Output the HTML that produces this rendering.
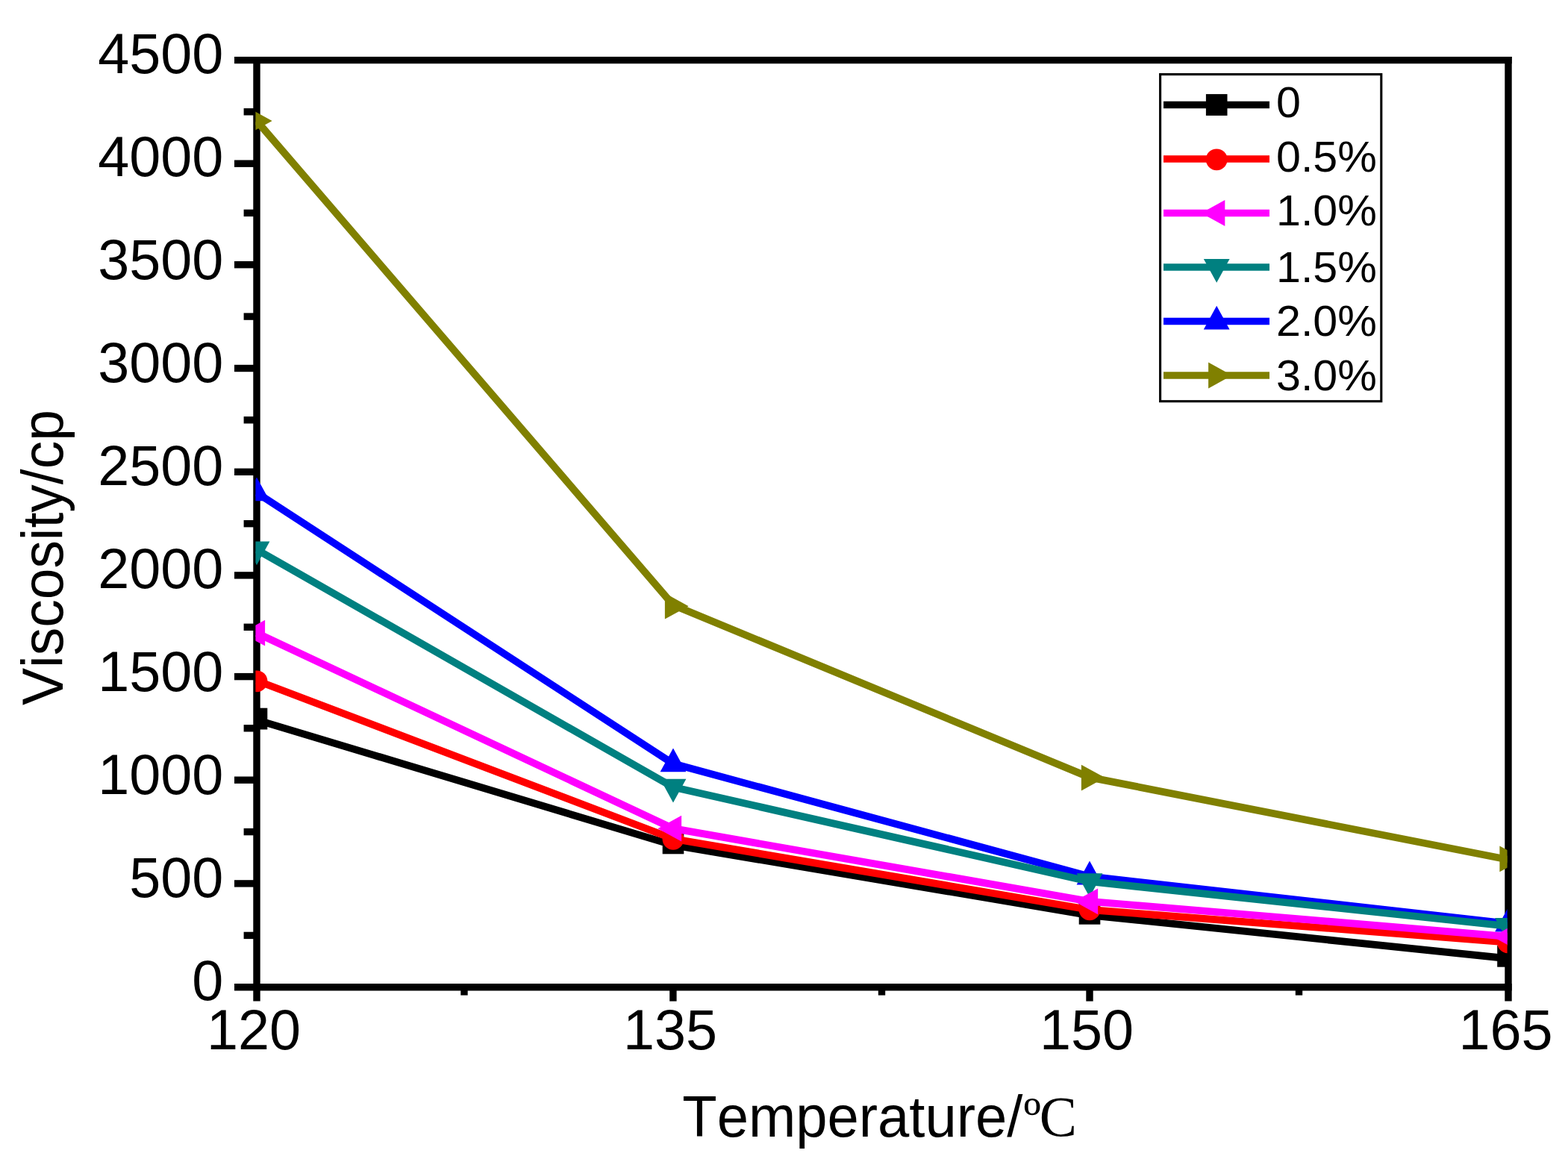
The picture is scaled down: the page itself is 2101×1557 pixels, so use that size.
<!DOCTYPE html>
<html lang="en">
<head>
<meta charset="utf-8">
<style>
html,body{margin:0;padding:0;background:#ffffff;}
body{width:2101px;height:1557px;overflow:hidden;}
svg{display:block;position:absolute;left:0;top:0;}
text{font-family:"Liberation Sans",sans-serif;fill:#000000;font-kerning:none;font-variant-ligatures:none;}
.tk{font-size:75.6px;}
.lg{font-size:59.2px;}
.ax{font-size:76px;}
.ay{font-size:75px;}
.sf{font-family:"Liberation Serif",serif;font-size:75.2px;}
</style>
</head>
<body>
<svg width="2101" height="1557" viewBox="0 0 2101 1557">
<rect x="0" y="0" width="2101" height="1557" fill="#ffffff"/>
<defs><clipPath id="plotclip"><rect x="342.4" y="76" width="1677.2" height="1252"/></clipPath></defs>

<g stroke="#000000" stroke-width="9.4" fill="none">
<line x1="314.0" y1="80.6" x2="2025.7" y2="80.6"/>
<line x1="314.0" y1="1322.7" x2="2025.7" y2="1322.7"/>
<line x1="344.0" y1="75.9" x2="344.0" y2="1341.6"/>
<line x1="2021.0" y1="75.9" x2="2021.0" y2="1341.6"/>
<line x1="314" y1="219.2" x2="344.0" y2="219.2"/>
<line x1="314" y1="354.7" x2="344.0" y2="354.7"/>
<line x1="314" y1="493.5" x2="344.0" y2="493.5"/>
<line x1="314" y1="632.3" x2="344.0" y2="632.3"/>
<line x1="314" y1="770.9" x2="344.0" y2="770.9"/>
<line x1="314" y1="906.6" x2="344.0" y2="906.6"/>
<line x1="314" y1="1045.2" x2="344.0" y2="1045.2"/>
<line x1="314" y1="1183.9" x2="344.0" y2="1183.9"/>
<line x1="326.6" y1="149.8" x2="344.0" y2="149.8"/>
<line x1="326.6" y1="285.4" x2="344.0" y2="285.4"/>
<line x1="326.6" y1="424.1" x2="344.0" y2="424.1"/>
<line x1="326.6" y1="562.8" x2="344.0" y2="562.8"/>
<line x1="326.6" y1="701.7" x2="344.0" y2="701.7"/>
<line x1="326.6" y1="840.3" x2="344.0" y2="840.3"/>
<line x1="326.6" y1="975.8" x2="344.0" y2="975.8"/>
<line x1="326.6" y1="1114.6" x2="344.0" y2="1114.6"/>
<line x1="326.6" y1="1253.4" x2="344.0" y2="1253.4"/>
<line x1="901.9" y1="1322.7" x2="901.9" y2="1341.6"/>
<line x1="1460.0" y1="1322.7" x2="1460.0" y2="1341.6"/>
<line x1="622.0" y1="1322.7" x2="622.0" y2="1333.6"/>
<line x1="1181.5" y1="1322.7" x2="1181.5" y2="1333.6"/>
<line x1="1740.5" y1="1322.7" x2="1740.5" y2="1333.6"/>
</g>
<g clip-path="url(#plotclip)">
<polyline points="344.0,964.6 902.0,1132.4 1460.0,1226.3 2020.5,1284.3" fill="none" stroke="#000000" stroke-width="9.8" stroke-linejoin="round"/>
<rect x="329.7" y="948.7" width="28.6" height="28.8" fill="#000000"/>
<rect x="887.7" y="1115.5" width="28.6" height="28.8" fill="#000000"/>
<rect x="1445.7" y="1209.9" width="28.6" height="28.8" fill="#000000"/>
<rect x="2006.2" y="1266.9" width="28.6" height="28.8" fill="#000000"/>
<polyline points="344.0,912.0 902.0,1124.0 1460.0,1219.0 2020.5,1262.5" fill="none" stroke="#ff0000" stroke-width="9.8" stroke-linejoin="round"/>
<circle cx="344.0" cy="912.8" r="14.4" fill="#ff0000"/>
<circle cx="902.0" cy="1124.3" r="14.4" fill="#ff0000"/>
<circle cx="1460.0" cy="1218.8" r="14.4" fill="#ff0000"/>
<circle cx="2020.5" cy="1262.8" r="14.4" fill="#ff0000"/>
<polyline points="344.0,660.3 902.0,1023.3 1460.0,1174.4 2020.5,1237.4" fill="none" stroke="#0000ff" stroke-width="9.8" stroke-linejoin="round"/>
<polygon points="344.0,639.5 326.6,671.3 361.4,671.3" fill="#0000ff"/>
<polygon points="902.0,1002.5 884.6,1034.3 919.4,1034.3" fill="#0000ff"/>
<polygon points="1460.0,1153.6 1442.6,1185.4 1477.4,1185.4" fill="#0000ff"/>
<polygon points="2020.5,1216.6 2003.1,1248.4 2037.9,1248.4" fill="#0000ff"/>
<polyline points="344.0,736.4 902.0,1054.8 1460.0,1181.2 2020.5,1241.0" fill="none" stroke="#008080" stroke-width="9.8" stroke-linejoin="round"/>
<polygon points="344.0,757.2 326.6,725.4 361.4,725.4" fill="#008080"/>
<polygon points="902.0,1075.6 884.6,1043.8 919.4,1043.8" fill="#008080"/>
<polygon points="1460.0,1202.0 1442.6,1170.2 1477.4,1170.2" fill="#008080"/>
<polygon points="2020.5,1261.8 2003.1,1230.0 2037.9,1230.0" fill="#008080"/>
<polyline points="344.0,848.2 902.0,1110.2 1460.0,1207.8 2020.5,1254.9" fill="none" stroke="#ff00ff" stroke-width="9.8" stroke-linejoin="round"/>
<polygon points="323.4,848.2 355.1,830.8 355.1,865.6" fill="#ff00ff"/>
<polygon points="881.4,1110.2 913.1,1092.8 913.1,1127.6" fill="#ff00ff"/>
<polygon points="1439.4,1207.8 1471.1,1190.4 1471.1,1225.2" fill="#ff00ff"/>
<polygon points="1999.9,1254.9 2031.6,1237.5 2031.6,1272.3" fill="#ff00ff"/>
<polyline points="344.0,162.0 902.0,810.7 1460.0,1041.6 2020.5,1151.8" fill="none" stroke="#808000" stroke-width="9.8" stroke-linejoin="round"/>
<polygon points="364.6,162.0 332.9,144.6 332.9,179.4" fill="#808000"/>
<polygon points="922.6,812.2 890.9,794.8 890.9,829.6" fill="#808000"/>
<polygon points="1480.6,1042.1 1448.9,1024.7 1448.9,1059.5" fill="#808000"/>
<polygon points="2041.1,1150.8 2009.4,1133.4 2009.4,1168.2" fill="#808000"/>
</g>
<g class="tk" text-anchor="end">
<text transform="translate(299.4,1339.8) scale(1,1.015)">0</text>
<text transform="translate(299.4,1201.8) scale(1,1.015)">500</text>
<text transform="translate(299.4,1063.8) scale(1,1.015)">1000</text>
<text transform="translate(299.4,925.8) scale(1,1.015)">1500</text>
<text transform="translate(299.4,787.8) scale(1,1.015)">2000</text>
<text transform="translate(299.4,649.7) scale(1,1.015)">2500</text>
<text transform="translate(299.4,511.7) scale(1,1.015)">3000</text>
<text transform="translate(299.4,373.7) scale(1,1.015)">3500</text>
<text transform="translate(299.4,235.7) scale(1,1.015)">4000</text>
<text transform="translate(299.4,97.7) scale(1,1.015)">4500</text>
</g>
<g class="tk" text-anchor="middle">
<text transform="translate(340.0,1405.6) scale(1,1.015)">120</text>
<text transform="translate(898.0,1405.6) scale(1,1.015)">135</text>
<text transform="translate(1456.0,1405.6) scale(1,1.015)">150</text>
<text transform="translate(2017.6,1405.6) scale(1,1.015)">165</text>
</g>
<text class="ax" transform="translate(914.3,1522.8) scale(1,1.02)">Temperature/<tspan class="sf" x="457.2" dy="1">º</tspan><tspan class="sf" x="478.5" dy="-2">C</tspan></text>
<text class="ay" transform="translate(84,945) rotate(-90) scale(1,1.03)">Viscosity/cp</text>
<rect x="1554.6" y="99.6" width="296.2" height="438.1" fill="#ffffff" stroke="#000000" stroke-width="3.1"/>
<line x1="1559" y1="140.5" x2="1701" y2="140.5" stroke="#000000" stroke-width="9.4"/>
<rect x="1615.9" y="126.1" width="28.6" height="28.8" fill="#000000"/>
<text class="lg" transform="translate(1710,157.1) scale(1,0.985)">0</text>
<line x1="1559" y1="213.0" x2="1701" y2="213.0" stroke="#ff0000" stroke-width="9.4"/>
<circle cx="1630.2" cy="213.8" r="14.4" fill="#ff0000"/>
<text class="lg" transform="translate(1710,229.6) scale(1,0.985)">0.5%</text>
<line x1="1559" y1="285.5" x2="1701" y2="285.5" stroke="#ff00ff" stroke-width="9.4"/>
<polygon points="1609.6,285.5 1641.3,268.1 1641.3,302.9" fill="#ff00ff"/>
<text class="lg" transform="translate(1710,302.1) scale(1,0.985)">1.0%</text>
<line x1="1559" y1="358.0" x2="1701" y2="358.0" stroke="#008080" stroke-width="9.4"/>
<polygon points="1630.2,378.8 1612.8,347.0 1647.6,347.0" fill="#008080"/>
<text class="lg" transform="translate(1710,377.8) scale(1,0.985)">1.5%</text>
<line x1="1559" y1="430.5" x2="1701" y2="430.5" stroke="#0000ff" stroke-width="9.4"/>
<polygon points="1630.2,409.7 1612.8,441.5 1647.6,441.5" fill="#0000ff"/>
<text class="lg" transform="translate(1710,450.3) scale(1,0.985)">2.0%</text>
<line x1="1559" y1="503.0" x2="1701" y2="503.0" stroke="#808000" stroke-width="9.4"/>
<polygon points="1650.8,503.0 1619.1,485.6 1619.1,520.4" fill="#808000"/>
<text class="lg" transform="translate(1710,522.8) scale(1,0.985)">3.0%</text>
</svg>
</body>
</html>
